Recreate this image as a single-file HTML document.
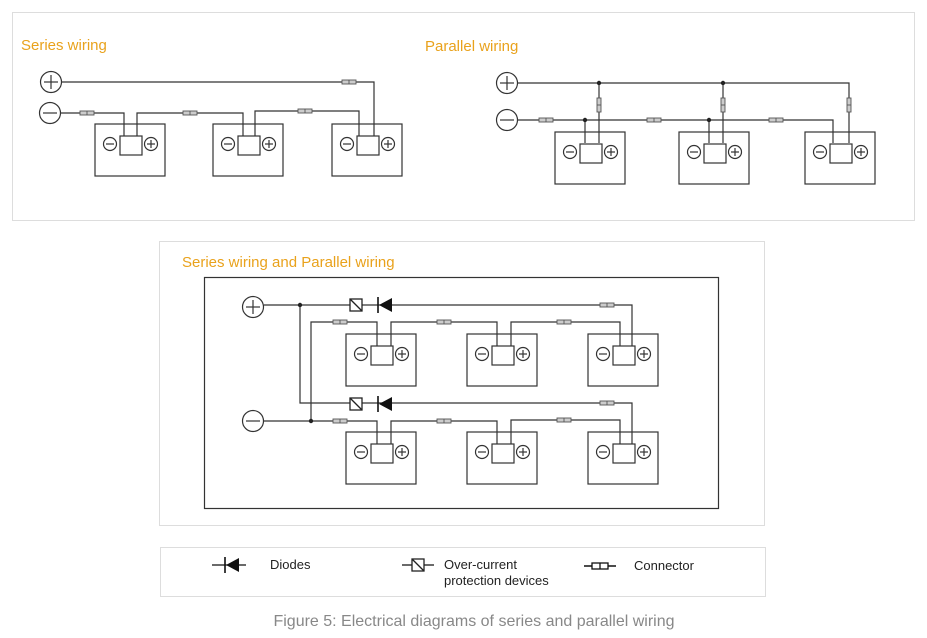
<!DOCTYPE html>
<html><head><meta charset="utf-8"><style>
html,body{margin:0;padding:0;background:#fff;}
svg{display:block;}
text{font-family:"Liberation Sans",Arial,sans-serif;}
</style></head><body>
<svg width="927" height="638" viewBox="0 0 927 638" xmlns="http://www.w3.org/2000/svg">
<defs>
<g id="bat" fill="none" stroke="#333" stroke-width="1.2">
<rect x="0" y="0" width="70" height="52"/>
<rect x="25" y="12" width="22" height="19" fill="#fff"/>
<circle cx="15" cy="20" r="6.5"/><line x1="11" y1="20" x2="19" y2="20"/>
<circle cx="56" cy="20" r="6.5"/><line x1="52" y1="20" x2="60" y2="20"/><line x1="56" y1="16" x2="56" y2="24"/>
</g>
<g id="con"><rect x="0" y="-2" width="14" height="4" fill="#ccc" stroke="#555" stroke-width="0.9"/><line x1="7" y1="-2" x2="7" y2="2" stroke="#555" stroke-width="0.9"/></g>
<g id="vcon"><rect x="-2" y="0" width="4" height="14" fill="#ccc" stroke="#555" stroke-width="0.9"/><line x1="-2" y1="7" x2="2" y2="7" stroke="#555" stroke-width="0.9"/></g>
<g id="fuse"><rect x="0" y="-6" width="12" height="12" fill="#fff" stroke="#222" stroke-width="1.3"/><line x1="0" y1="-6" x2="12" y2="6" stroke="#222" stroke-width="1.3"/></g>
<g id="diode"><polygon points="1,0 14,-7 14,7" fill="#111"/><line x1="0" y1="-8" x2="0" y2="8" stroke="#111" stroke-width="1.6"/></g>
<g id="pterm" fill="none" stroke="#333" stroke-width="1.2"><circle r="10.5"/><line x1="-7" y1="0" x2="7" y2="0"/><line x1="0" y1="-7" x2="0" y2="7"/></g>
<g id="mterm" fill="none" stroke="#333" stroke-width="1.2"><circle r="10.5"/><line x1="-7" y1="0" x2="7" y2="0"/></g>
</defs>

<!-- panels -->
<rect x="12.5" y="12.5" width="902" height="208" fill="none" stroke="#ddd"/>
<rect x="159.5" y="241.5" width="605" height="284" fill="none" stroke="#ddd"/>
<rect x="160.5" y="547.5" width="605" height="49" fill="none" stroke="#ddd"/>
<rect x="204.5" y="277.5" width="514" height="231" fill="none" stroke="#333" stroke-width="1.2"/>

<text x="21" y="50" font-size="15" fill="#e9a21c">Series wiring</text>
<text x="425" y="51" font-size="15" fill="#e9a21c">Parallel wiring</text>
<text x="182" y="267" font-size="15" fill="#e9a21c">Series wiring and Parallel wiring</text>

<!-- SERIES -->
<g fill="none" stroke="#333" stroke-width="1.2">
<polyline points="62,82 374,82 374,136"/>
<polyline points="61,113 124,113 124,136"/>
<polyline points="137,136 137,113 243,113 243,136"/>
<polyline points="255,136 255,111 359,111 359,136"/>
</g>
<use href="#pterm" x="51" y="82"/><use href="#mterm" x="50" y="113"/>
<use href="#con" x="342" y="82"/><use href="#con" x="80" y="113"/><use href="#con" x="183" y="113"/><use href="#con" x="298" y="111"/>
<use href="#bat" x="95" y="124"/><use href="#bat" x="213" y="124"/><use href="#bat" x="332" y="124"/>

<!-- PARALLEL -->
<g fill="none" stroke="#333" stroke-width="1.2">
<polyline points="518,83 849,83 849,143"/>
<polyline points="518,120 833,120 833,143"/>
<line x1="599" y1="83" x2="599" y2="143"/><line x1="723" y1="83" x2="723" y2="143"/>
<line x1="585" y1="120" x2="585" y2="143"/><line x1="709" y1="120" x2="709" y2="143"/>
</g>
<g fill="#222"><circle cx="599" cy="83" r="2.2"/><circle cx="723" cy="83" r="2.2"/><circle cx="585" cy="120" r="2.2"/><circle cx="709" cy="120" r="2.2"/></g>
<use href="#pterm" x="507" y="83"/><use href="#mterm" x="507" y="120"/>
<use href="#vcon" x="599" y="98"/><use href="#vcon" x="723" y="98"/><use href="#vcon" x="849" y="98"/>
<use href="#con" x="539" y="120"/><use href="#con" x="647" y="120"/><use href="#con" x="769" y="120"/>
<use href="#bat" x="555" y="132" transform="translate(-0,0)"/><use href="#bat" x="679" y="132"/><use href="#bat" x="805" y="132"/>

<!-- COMBINED -->
<g fill="none" stroke="#333" stroke-width="1.2">
<polyline points="264,305 632,305 632,346"/>
<polyline points="300,305 300,403 632,403 632,444"/>
<polyline points="264,421 377,421 377,444"/>
<polyline points="311,421 311,322 377,322 377,346"/>
<polyline points="391,346 391,322 497,322 497,346"/>
<polyline points="511,346 511,322 620,322 620,346"/>
<polyline points="391,444 391,421 497,421 497,444"/>
<polyline points="511,444 511,420 620,420 620,444"/>
</g>
<g fill="#222"><circle cx="300" cy="305" r="2.2"/><circle cx="311" cy="421" r="2.2"/></g>
<use href="#pterm" x="253" y="307"/><use href="#mterm" x="253" y="421"/>
<use href="#fuse" x="350" y="305"/><use href="#diode" x="378" y="305"/>
<use href="#fuse" x="350" y="404"/><use href="#diode" x="378" y="404"/>
<use href="#con" x="600" y="305"/><use href="#con" x="600" y="403"/>
<use href="#con" x="333" y="322"/><use href="#con" x="437" y="322"/><use href="#con" x="557" y="322"/>
<use href="#con" x="333" y="421"/><use href="#con" x="437" y="421"/><use href="#con" x="557" y="420"/>
<use href="#bat" x="346" y="334"/><use href="#bat" x="467" y="334"/><use href="#bat" x="588" y="334"/>
<use href="#bat" x="346" y="432"/><use href="#bat" x="467" y="432"/><use href="#bat" x="588" y="432"/>

<!-- LEGEND -->
<line x1="212" y1="565" x2="246" y2="565" stroke="#111" stroke-width="1.3"/>
<use href="#diode" x="225" y="565"/>
<text x="270" y="569" font-size="13" fill="#222">Diodes</text>
<line x1="402" y1="565" x2="434" y2="565" stroke="#111" stroke-width="1.3"/>
<use href="#fuse" x="412" y="565"/>
<text x="444" y="569" font-size="13" fill="#222">Over-current</text>
<text x="444" y="585" font-size="13" fill="#222">protection devices</text>
<line x1="584" y1="566" x2="616" y2="566" stroke="#111" stroke-width="1.5"/>
<rect x="592" y="563" width="16" height="6" fill="#fff" stroke="#111" stroke-width="1.3"/>
<line x1="600" y1="563" x2="600" y2="569" stroke="#111" stroke-width="1.3"/>
<text x="634" y="570" font-size="13" fill="#222">Connector</text>

<text x="474" y="626" font-size="16" fill="#888" text-anchor="middle">Figure 5: Electrical diagrams of series and parallel wiring</text>
</svg>
</body></html>
